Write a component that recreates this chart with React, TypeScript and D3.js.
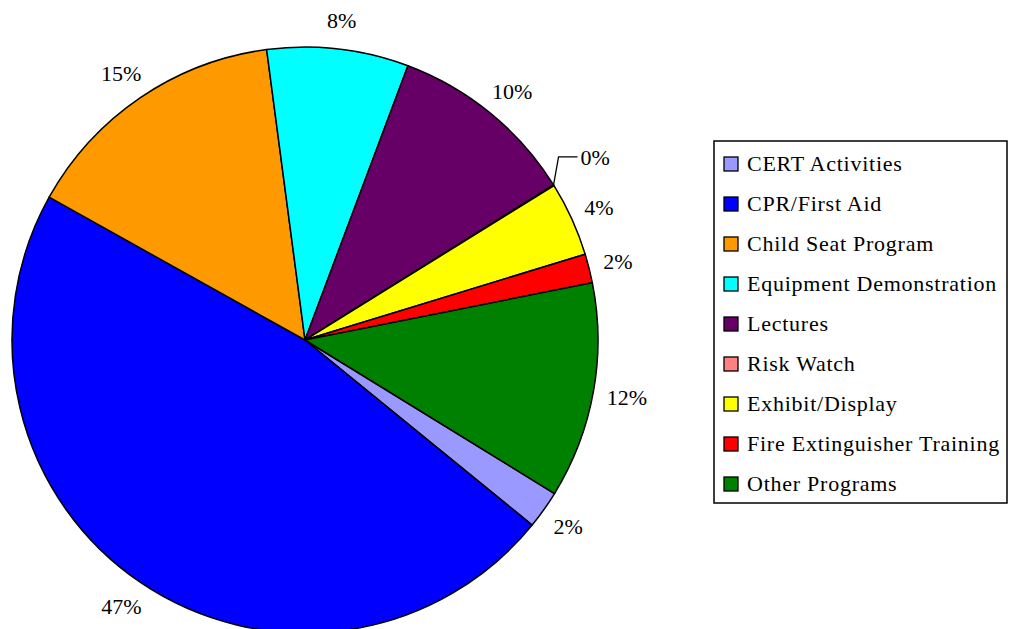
import React from 'react';
import * as d3 from 'd3';

const categories = [
  'CERT Activities',
  'CPR/First Aid',
  'Child Seat Program',
  'Equipment Demonstration',
  'Lectures',
  'Risk Watch',
  'Exhibit/Display',
  'Fire Extinguisher Training',
  'Other Programs',
];
const shares = [2.1, 47.2, 14.8, 7.8, 10.4, 0.05, 4.1, 1.6, 11.9];
const colors = ['#9999FF', '#0000FF', '#FF9900', '#00FFFF', '#660066', '#FF8080', '#FFFF00', '#FF0000', '#008000'];

const W = 1010;
const H = 629;
const cx = 305;
const cy = 340;
const R = 293;
const startDeg = 121.6;
const fs = 22;
const serif = '"Liberation Serif", "Times New Roman", "DejaVu Serif", serif';

const App = () => {
  const total = d3.sum(shares);
  const start = (startDeg * Math.PI) / 180;
  const pie = d3
    .pie<number>()
    .sort(null)
    .value((d) => d)
    .startAngle(start)
    .endAngle(start + 2 * Math.PI);
  const arcs = pie(shares);
  const arc = d3.arc<d3.PieArcDatum<number>>().innerRadius(0).outerRadius(R);
  const fmt = (v: number) => `${Math.round((v / total) * 100)}%`;

  return (
    <svg
      width={W}
      height={H}
      style={{ position: 'absolute', left: 0, top: 0, fontFamily: serif }}
    >
      <rect width={W} height={H} fill="#fff" />
      <g transform={`translate(${cx},${cy})`}>
        {arcs.map((a, i) => (
          <path key={i} d={arc(a) || ''} fill={colors[i]} stroke="#000" strokeWidth={1.5} strokeLinejoin="round" />
        ))}
        {arcs.map((a, i) => {
          const label = fmt(a.value);
          const tiny = a.endAngle - a.startAngle < 0.01;
          if (tiny) {
            // small slice: label pulled out with a leader line
            const px = Math.sin(a.startAngle) * R;
            const py = -Math.cos(a.startAngle) * R;
            return (
              <g key={i}>
                <polyline
                  points={`${px},${py} ${px + 5},${py - 28} ${px + 24},${py - 28}`}
                  fill="none"
                  stroke="#000"
                  strokeWidth={1.3}
                />
                <text x={px + 27} y={py - 28} dy="0.35em" fontSize={fs} fill="#000" style={{ fontFamily: serif }}>
                  {label}
                </text>
              </g>
            );
          }
          // label box sits just outside the rim, pushed outward by part of its size
          const mid = (a.startAngle + a.endAngle) / 2;
          const s = Math.sin(mid);
          const c = -Math.cos(mid);
          const w = ((label.length - 1) * 0.5 + 0.833) * fs;
          const lx = s * (R + 18) + (s * w) * 0.4;
          const ly = c * (R + 18) + (c * fs) / 2;
          return (
            <text key={i} x={lx} y={ly} dy="0.35em" textAnchor="middle" fontSize={fs} fill="#000" style={{ fontFamily: serif }}>
              {label}
            </text>
          );
        })}
      </g>
      <g transform="translate(714,141)">
        <rect width={293} height={362} fill="#fff" stroke="#000" strokeWidth={1.5} />
        {categories.map((c, i) => (
          <g key={c} transform={`translate(0,${23 + i * 40})`}>
            <rect x={10} y={-7} width={14} height={14} fill={colors[i]} stroke="#000" strokeWidth={1.3} />
            <text x={33} y={7} fontSize={fs} letterSpacing={0.75} fill="#000" style={{ fontFamily: serif }}>
              {c}
            </text>
          </g>
        ))}
      </g>
    </svg>
  );
};

export default App;
